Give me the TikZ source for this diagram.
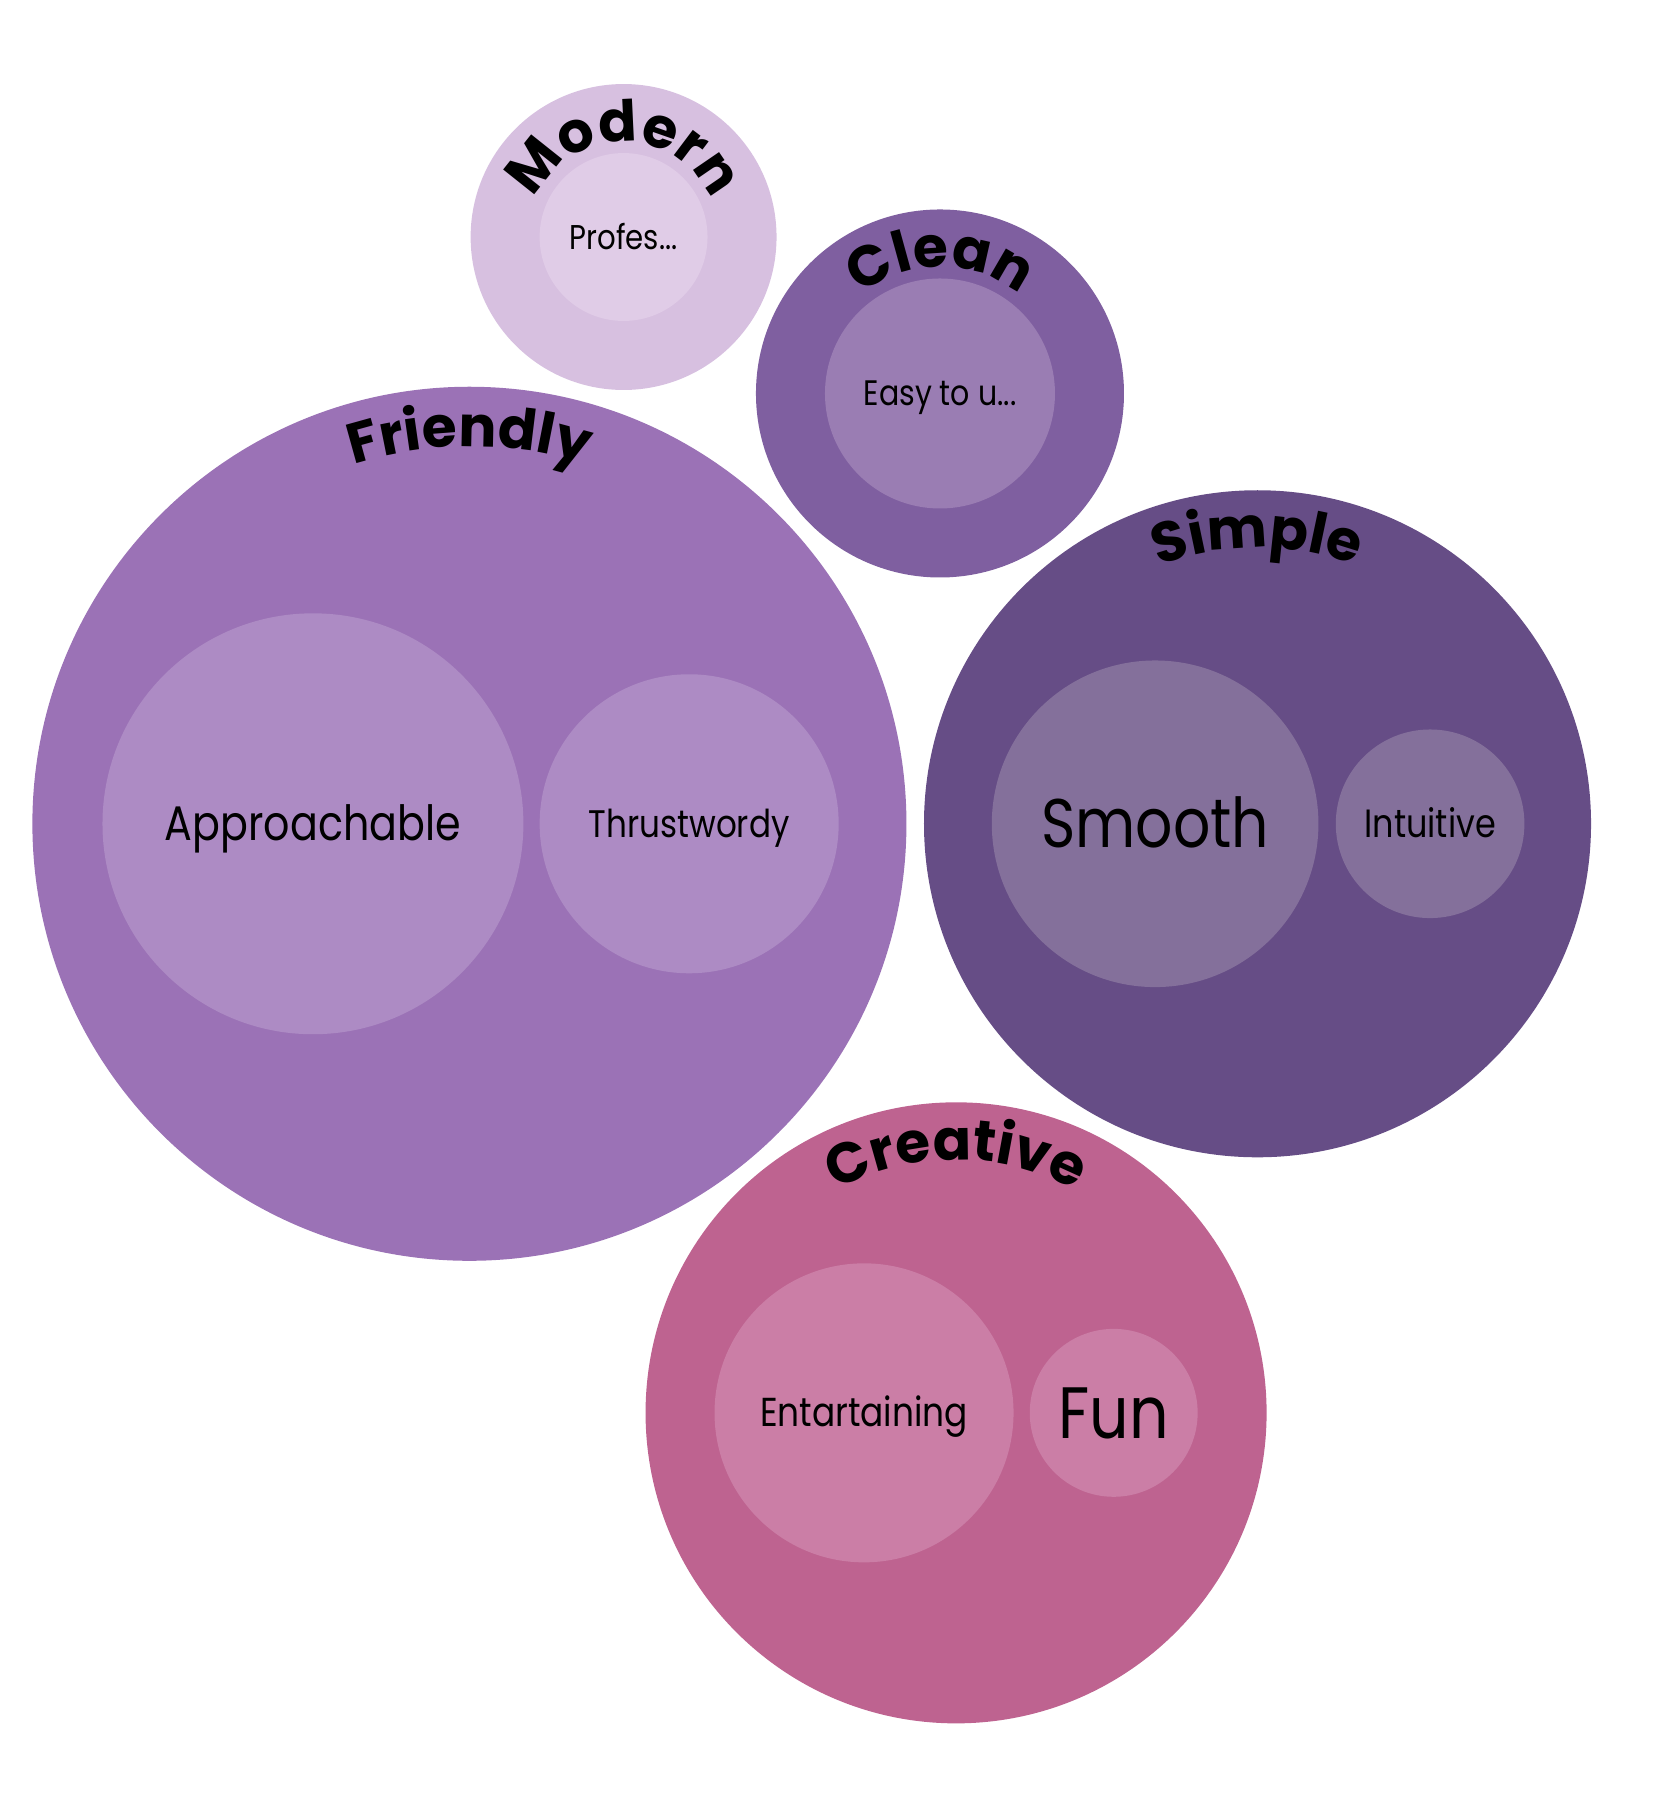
\documentclass[tikz,border=0pt]{standalone}
\usepackage{fontspec}
\setmainfont{Poppins}[FakeStretch=0.85]
\newfontfamily\ttlfamily{Poppins}
\usetikzlibrary{decorations.text}
\definecolor{modernO}{HTML}{D7C0E0}
\definecolor{modernI}{HTML}{E0CCE7}
\definecolor{cleanO}{HTML}{7F5FA0}
\definecolor{cleanI}{HTML}{9A7DB3}
\definecolor{friendO}{HTML}{9B72B6}
\definecolor{friendI}{HTML}{AD8BC4}
\definecolor{simpleO}{HTML}{664D86}
\definecolor{simpleI}{HTML}{84709B}
\definecolor{creatO}{HTML}{BE6390}
\definecolor{creatI}{HTML}{CB7EA6}
\newcommand\ttlfont{\ttlfamily\fontsize{28}{30}\selectfont\bfseries}
\tikzset{
  bub/.style={circle, inner sep=0pt, outer sep=0pt, minimum size=#1*0.04cm, text=black},
  lab/.style={font=\fontsize{#1}{#1}\selectfont, text height=#1*0.7pt, text depth=0pt},
  ttl/.style={decorate, decoration={text along path, text align=center, text={|\ttlfont|#1}}}
}
\begin{document}
\begin{tikzpicture}[x=0.02cm, y=0.02cm]
\useasboundingbox (0,-1568) rectangle (1439,0);
% Modern
\node[bub=133, fill=modernO] (modern) at (542,-206) {};
\node[bub=73, fill=modernI, lab=17] (profes) at (542,-206) {Profes...};
\path[ttl=Modern] (modern.center) ++(180:83) arc[start angle=180, end angle=0, radius=83];
% Clean
\node[bub=160, fill=cleanO] (clean) at (817,-342) {};
\node[bub=100, fill=cleanI, lab=17.5] (easy) at (817,-342) {Easy to u...};
\path[ttl=Clean] (clean.center) ++(180:110) arc[start angle=180, end angle=0, radius=110];
% Friendly
\node[bub=380, fill=friendO] (friendly) at (408,-716) {};
\node[bub=183, fill=friendI, lab=24] (appr) at (272,-716) {Approachable};
\node[bub=130, fill=friendI, lab=19] (thrust) at (599,-716) {Thrustwordy};
\path[ttl=Friendly] (friendly.center) ++(180:328) arc[start angle=180, end angle=0, radius=328];
% Simple
\node[bub=290, fill=simpleO] (simple) at (1093,-716) {};
\node[bub=142, fill=simpleI, lab=34] (smooth) at (1004,-716) {Smooth};
\node[bub=82, fill=simpleI, lab=19.5] (intu) at (1243,-716) {Intuitive};
\path[ttl=Simple] (simple.center) ++(180:240) arc[start angle=180, end angle=0, radius=240];
% Creative
\node[bub=270, fill=creatO] (creative) at (831,-1228) {};
\node[bub=130, fill=creatI, lab=20] (entar) at (751,-1228) {Entartaining};
\node[bub=73, fill=creatI, lab=36] (fun) at (968,-1228) {Fun};
\path[ttl=Creative] (creative.center) ++(180:220) arc[start angle=180, end angle=0, radius=220];
\end{tikzpicture}
\end{document}
